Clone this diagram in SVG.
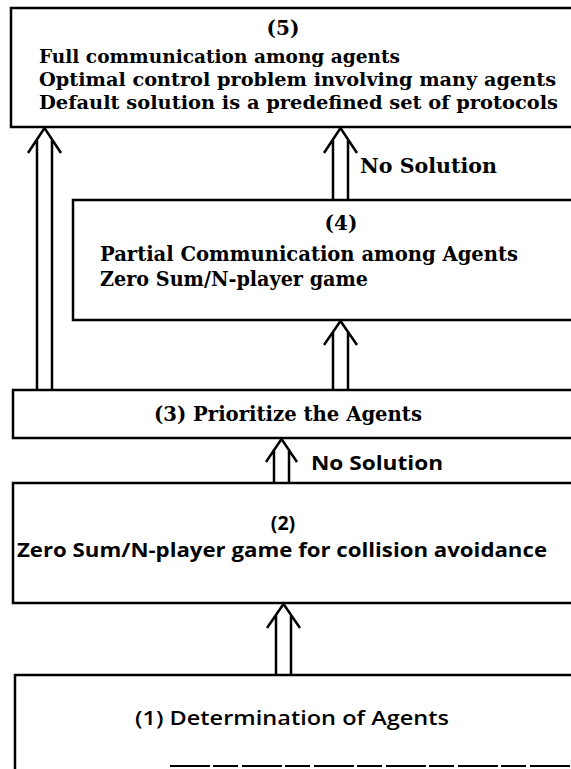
<svg xmlns="http://www.w3.org/2000/svg" width="571" height="769" viewBox="0 0 571 769">
<style>
.box{fill:#fff;stroke:#000;stroke-width:2.5}
.arr{fill:none;stroke:#000;stroke-width:2.5;stroke-linejoin:miter}
.serif{font-family:"DejaVu Serif","Liberation Serif",serif;font-weight:bold;font-size:20px;fill:#000}
.s5{font-size:18.5px}
.sans{font-family:"Open Sans","Liberation Sans",sans-serif;font-weight:700;font-size:19.5px;fill:#000}
.mid{text-anchor:middle}
</style>
<rect x="0" y="0" width="571" height="769" fill="#fff"/>
<g id="node5">
<rect class="box" x="11" y="8" width="600" height="119"/>
<text class="serif mid" x="283" y="35">(5)</text>
<text class="serif s5" x="39" y="63" textLength="361" lengthAdjust="spacingAndGlyphs">Full communication among agents</text>
<text class="serif s5" x="39" y="86" textLength="517" lengthAdjust="spacingAndGlyphs">Optimal control problem involving many agents</text>
<text class="serif s5" x="39" y="109" textLength="519" lengthAdjust="spacingAndGlyphs">Default solution is a predefined set of protocols</text>
</g>
<g id="node4">
<rect class="box" x="73" y="200" width="600" height="120"/>
<text class="serif mid" x="341" y="230">(4)</text>
<text class="serif" x="100" y="261" textLength="418" lengthAdjust="spacingAndGlyphs">Partial Communication among Agents</text>
<text class="serif" x="100" y="286" textLength="268" lengthAdjust="spacingAndGlyphs">Zero Sum/N-player game</text>
</g>
<g id="node3">
<rect class="box" x="13" y="390" width="600" height="48"/>
<text class="serif" x="154" y="421" textLength="268" lengthAdjust="spacingAndGlyphs">(3)  Prioritize the Agents</text>
</g>
<g id="node2">
<rect class="box" x="13" y="483" width="600" height="120"/>
<text class="sans mid" x="283" y="530">(2)</text>
<text class="sans" x="17" y="557" textLength="530" lengthAdjust="spacingAndGlyphs">Zero Sum/N-player game for collision avoidance</text>
</g>
<g id="node1">
<path class="box" d="M15,769 V675 H600"/>
<path d="M170,766 H571" stroke="#000" stroke-width="1.8" stroke-dasharray="40 3 25 4"/>
<text class="sans" x="135" y="725" textLength="314" lengthAdjust="spacingAndGlyphs" style="font-weight:600">(1)  Determination of Agents</text>
</g>
<g id="connectors">
<path class="arr" d="M37,390 V139 M52,390 V139 M28,153 L44.5,128 L61,153"/>
<path class="arr" d="M333,200 V139 M348,200 V139 M324,153 L340.5,128 L357,153"/>
<path class="arr" d="M333,390 V332 M348,390 V332 M324,345 L340.5,321 L357,345"/>
<path class="arr" d="M274,483 V449 M289,483 V449 M266,462 L281.5,439 L297,462"/>
<path class="arr" d="M276,675 V615 M291,675 V615 M267,628 L283.5,604 L300,628"/>
<text class="serif" x="360" y="173" textLength="137" lengthAdjust="spacingAndGlyphs">No Solution</text>
<text class="sans" x="311" y="470" textLength="132" lengthAdjust="spacingAndGlyphs">No Solution</text>
</g>
</svg>
